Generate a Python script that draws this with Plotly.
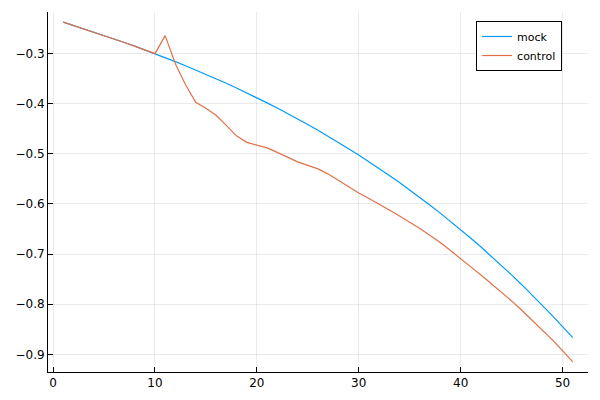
import plotly.graph_objects as go

x_vals = list(range(1, 52))

mock = [
    -0.2372, -0.2437, -0.2503, -0.2569, -0.2637, -0.2706, -0.2777, -0.2850, -0.2924, -0.3000,
    -0.3078, -0.3158, -0.3240, -0.3325, -0.3411, -0.3500, -0.3591, -0.3685, -0.3781, -0.3880,
    -0.3982, -0.4086, -0.4192, -0.4302, -0.4415, -0.4530, -0.4649, -0.4771, -0.4896, -0.5024,
    -0.5156, -0.5292, -0.5431, -0.5573, -0.5720, -0.5870, -0.6024, -0.6183, -0.6345, -0.6512,
    -0.6684, -0.6859, -0.7040, -0.7225, -0.7416, -0.7611, -0.7812, -0.8018, -0.8229, -0.8446,
    -0.8669,
]

control = [
    -0.2372, -0.2437, -0.2503, -0.2569, -0.2637, -0.2706, -0.2777, -0.2850, -0.2924, -0.3000,
    -0.2640, -0.3200, -0.3620, -0.3970, -0.4090, -0.4230, -0.4430, -0.4640, -0.4770, -0.4820,
    -0.4880, -0.4970, -0.5070, -0.5160, -0.5230, -0.5300, -0.5400, -0.5530, -0.5660, -0.5780,
    -0.5890, -0.6000, -0.6120, -0.6240, -0.6360, -0.6490, -0.6630, -0.6770, -0.6930, -0.7100,
    -0.7255, -0.7416, -0.7583, -0.7756, -0.7935, -0.8120, -0.8311, -0.8508, -0.8711, -0.8925,
    -0.9150,
]

x_ticks = [0, 10, 20, 30, 40, 50]
x_labels = ["0", "10", "20", "30", "40", "50"]
y_ticks = [-0.9, -0.8, -0.7, -0.6, -0.5, -0.4, -0.3]
y_labels = ["\u22120.9", "\u22120.8", "\u22120.7", "\u22120.6", "\u22120.5", "\u22120.4", "\u22120.3"]

all_y = mock + control
ylo, yhi = min(all_y), max(all_y)
ypad = 0.03 * (yhi - ylo)
xlo, xhi = min(x_vals), max(x_vals)
xpad = 0.03 * (xhi - xlo)

FONT = "DejaVu Sans"

fig = go.Figure()
fig.add_trace(go.Scatter(x=x_vals, y=mock, mode="lines", name="mock",
                         line=dict(color="#009AFA", width=1.2)))
fig.add_trace(go.Scatter(x=x_vals, y=control, mode="lines", name="control",
                         line=dict(color="#E26F46", width=1.2)))

axis_common = dict(
    showline=True, linecolor="black", linewidth=1,
    showgrid=True, gridcolor="rgba(0,0,0,0.08)", gridwidth=1,
    zeroline=False, ticks="inside", ticklen=5, tickcolor="black", tickwidth=1,
    tickfont=dict(family=FONT, size=12, color="black"), mirror=False,
    automargin=False,
)

fig.update_layout(
    width=600, height=400,
    paper_bgcolor="white", plot_bgcolor="white",
    margin=dict(l=48, r=12, t=12, b=28, pad=0),
    font=dict(family=FONT, size=12, color="black"),
    xaxis=dict(range=[xlo - xpad, xhi + xpad], tickvals=x_ticks, ticktext=x_labels, **axis_common),
    yaxis=dict(range=[ylo - ypad, yhi + ypad], tickvals=y_ticks, ticktext=y_labels, **axis_common),
    legend=dict(x=0.952, y=0.975, xanchor="right", yanchor="top",
                bordercolor="black", borderwidth=1, bgcolor="white",
                font=dict(family=FONT, size=11, color="black"),
                tracegroupgap=0, itemwidth=30),
    showlegend=True,
)

fig.write_html("out.html", config={"displayModeBar": False},
               post_script="document.body.style.margin='0';document.body.style.padding='0';")
